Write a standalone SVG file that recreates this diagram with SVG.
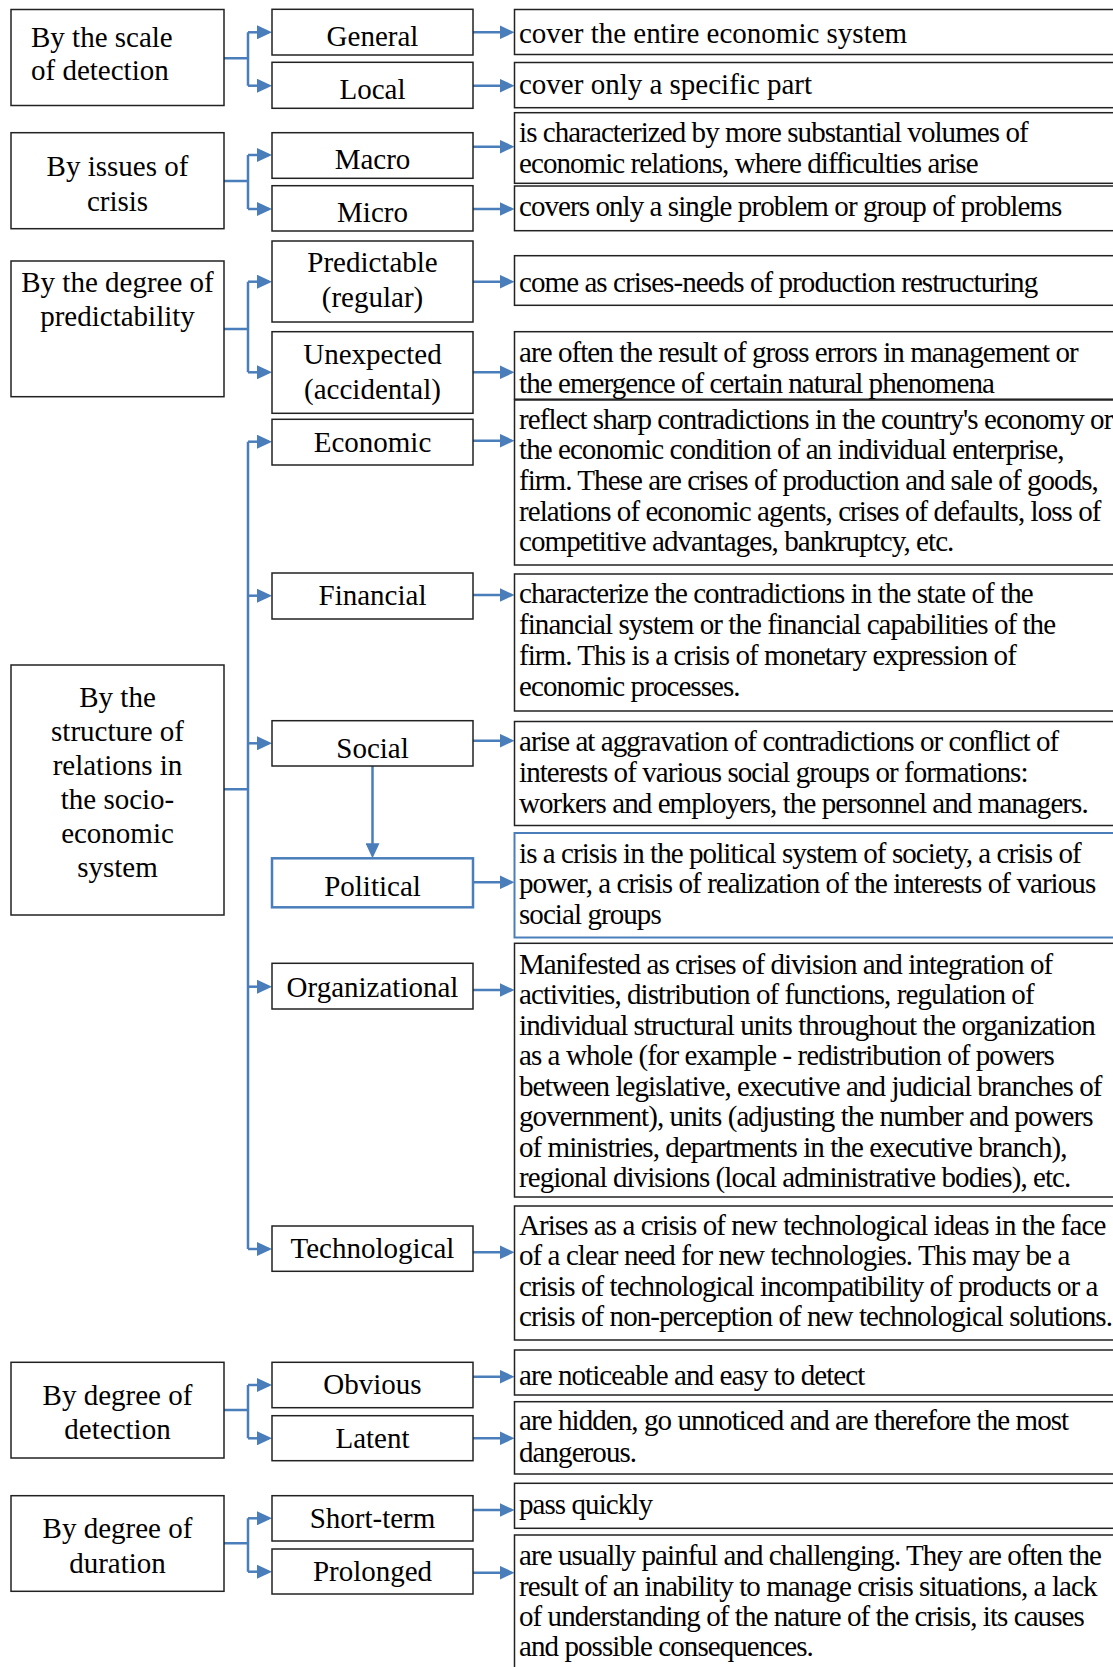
<svg xmlns="http://www.w3.org/2000/svg" width="1113" height="1667" viewBox="0 0 1113 1667">
<defs>
<style>
.box{fill:#fff;stroke:#222;stroke-width:1.5}
.bbox{fill:#fff;stroke:#4a7ebb;stroke-width:2.5}
.bbox2{fill:#fff;stroke:#4a7ebb;stroke-width:2}
.t{font-family:"Liberation Serif","Times New Roman",serif;font-size:29px;fill:#000}
.c{text-anchor:middle}
.cd{letter-spacing:-0.93px}
.con{fill:none;stroke:#4a7ebb;stroke-width:2.5}
.arr{fill:none;stroke:#4a7ebb;stroke-width:2.5;marker-end:url(#ah)}
</style>
<marker id="ah" viewBox="0 0 15 14" refX="12" refY="7" markerWidth="15" markerHeight="14" markerUnits="userSpaceOnUse" orient="auto"><path d="M0 0 L15 7 L0 14 Z" fill="#4a7ebb"/></marker>
</defs>
<rect width="1113" height="1667" fill="#fff"/>

<g id="connectors">
<path class="con" d="M224 58.3 H248 M248 32.3 V85.7"/>
<path class="arr" d="M248 32.3 H269"/>
<path class="arr" d="M248 85.7 H269"/>
<path class="con" d="M224 181 H248 M248 155 V209"/>
<path class="arr" d="M248 155 H269"/>
<path class="arr" d="M248 209 H269"/>
<path class="con" d="M224 329 H248 M248 281.7 V372.3"/>
<path class="arr" d="M248 281.7 H269"/>
<path class="arr" d="M248 372.3 H269"/>
<path class="con" d="M224 789.3 H248 M248 441.7 V1249"/>
<path class="arr" d="M248 441.7 H269"/>
<path class="arr" d="M248 595.7 H269"/>
<path class="arr" d="M248 743.3 H269"/>
<path class="arr" d="M248 986.7 H269"/>
<path class="arr" d="M248 1249 H269"/>
<path class="arr" d="M372.5 766 V855.3"/>
<path class="con" d="M224 1410 H248 M248 1385 V1438.3"/>
<path class="arr" d="M248 1385 H269"/>
<path class="arr" d="M248 1438.3 H269"/>
<path class="con" d="M224 1543.3 H248 M248 1518.3 V1571.7"/>
<path class="arr" d="M248 1518.3 H269"/>
<path class="arr" d="M248 1571.7 H269"/>
<path class="arr" d="M473 32.3 H511.5"/>
<path class="arr" d="M473 85.7 H511.5"/>
<path class="arr" d="M473 146.7 H511.5"/>
<path class="arr" d="M473 209 H511.5"/>
<path class="arr" d="M473 281.7 H511.5"/>
<path class="arr" d="M473 372.3 H511.5"/>
<path class="arr" d="M473 440.7 H511.5"/>
<path class="arr" d="M473 595 H511.5"/>
<path class="arr" d="M473 740.7 H511.5"/>
<path class="arr" d="M473 882.3 H511.5"/>
<path class="arr" d="M473 990 H511.5"/>
<path class="arr" d="M473 1252.3 H511.5"/>
<path class="arr" d="M473 1376.7 H511.5"/>
<path class="arr" d="M473 1438.3 H511.5"/>
<path class="arr" d="M473 1510 H511.5"/>
<path class="arr" d="M473 1572.7 H511.5"/>
</g>

<g id="cat-scale"><rect class="box" x="11" y="9.5" width="213" height="96"/>
<text class="t" x="31" y="46.7">By the scale</text><text class="t" x="31" y="80">of detection</text></g>
<g id="cat-issues"><rect class="box" x="11" y="132.7" width="213" height="96"/>
<text class="t c" x="117.5" y="175.5">By issues of</text><text class="t c" x="117.5" y="210.8">crisis</text></g>
<g id="cat-predict"><rect class="box" x="11" y="261" width="213" height="135.7"/>
<text class="t c" x="117.5" y="291.5">By the degree of</text><text class="t c" x="117.5" y="325.8">predictability</text></g>
<g id="cat-structure"><rect class="box" x="11" y="665" width="213" height="250"/>
<text class="t c" x="117.5" y="707">By the</text><text class="t c" x="117.5" y="741">structure of</text><text class="t c" x="117.5" y="775">relations in</text><text class="t c" x="117.5" y="808.5">the socio-</text><text class="t c" x="117.5" y="842.7">economic</text><text class="t c" x="117.5" y="877">system</text></g>
<g id="cat-detection"><rect class="box" x="11" y="1362.3" width="213" height="95.7"/>
<text class="t c" x="117.5" y="1405">By degree of</text><text class="t c" x="117.5" y="1439.3">detection</text></g>
<g id="cat-duration"><rect class="box" x="11" y="1495.7" width="213" height="95.6"/>
<text class="t c" x="117.5" y="1537.7">By degree of</text><text class="t c" x="117.5" y="1572.7">duration</text></g>

<g id="general"><rect class="box" x="272" y="9.3" width="201" height="45.7"/><text class="t c" x="372.5" y="46">General</text></g>
<g id="local"><rect class="box" x="272" y="62.3" width="201" height="46"/><text class="t c" x="372.5" y="99.3">Local</text></g>
<g id="macro"><rect class="box" x="272" y="132.7" width="201" height="45.6"/><text class="t c" x="372.5" y="169.3">Macro</text></g>
<g id="micro"><rect class="box" x="272" y="185.7" width="201" height="45.3"/><text class="t c" x="372.5" y="222.2">Micro</text></g>
<g id="predictable"><rect class="box" x="272" y="241" width="201" height="81"/><text class="t c" x="372.5" y="272.2">Predictable</text><text class="t c" x="372.5" y="307">(regular)</text></g>
<g id="unexpected"><rect class="box" x="272" y="331.7" width="201" height="81.6"/><text class="t c" x="372.5" y="363.5">Unexpected</text><text class="t c" x="372.5" y="398.5">(accidental)</text></g>
<g id="economic"><rect class="box" x="272" y="419.3" width="201" height="45.7"/><text class="t c" x="372.5" y="451.7">Economic</text></g>
<g id="financial"><rect class="box" x="272" y="573" width="201" height="46"/><text class="t c" x="372.5" y="605">Financial</text></g>
<g id="social"><rect class="box" x="272" y="720.7" width="201" height="45.3"/><text class="t c" x="372.5" y="757.5">Social</text></g>
<g id="political"><rect class="bbox" x="272" y="858.3" width="201" height="49"/><text class="t c" x="372.5" y="896">Political</text></g>
<g id="organizational"><rect class="box" x="272" y="963.3" width="201" height="45.7"/><text class="t c" x="372.5" y="996.5">Organizational</text></g>
<g id="technological"><rect class="box" x="272" y="1226" width="201" height="45.3"/><text class="t c" x="372.5" y="1258">Technological</text></g>
<g id="obvious"><rect class="box" x="272" y="1362.3" width="201" height="45.4"/><text class="t c" x="372.5" y="1394">Obvious</text></g>
<g id="latent"><rect class="box" x="272" y="1415.7" width="201" height="45"/><text class="t c" x="372.5" y="1447.5">Latent</text></g>
<g id="short-term"><rect class="box" x="272" y="1495.7" width="201" height="45.3"/><text class="t c" x="372.5" y="1527.5">Short-term</text></g>
<g id="prolonged"><rect class="box" x="272" y="1549" width="201" height="45"/><text class="t c" x="372.5" y="1580.8">Prolonged</text></g>

<g id="d-general"><rect class="box" x="514.5" y="9.5" width="620" height="45"/><text class="t" x="519" y="42.5">cover the entire economic system</text></g>
<g id="d-local"><rect class="box" x="514.5" y="62.5" width="620" height="45.2"/><text class="t" x="519" y="94">cover only a specific part</text></g>
<g id="d-macro"><rect class="box" x="514.5" y="112.7" width="620" height="70.6"/><text class="t cd" x="519" y="142">is characterized by more substantial volumes of</text><text class="t cd" x="519" y="173">economic relations, where difficulties arise</text></g>
<g id="d-micro"><rect class="box" x="514.5" y="186" width="620" height="44.7"/><text class="t cd" x="519" y="216">covers only a single problem or group of problems</text></g>
<g id="d-predictable"><rect class="box" x="514.5" y="255.7" width="620" height="49.6"/><text class="t cd" x="519" y="292">come as crises-needs of production restructuring</text></g>
<g id="d-unexpected"><rect class="box" x="514.5" y="331.7" width="620" height="67.5"/><text class="t cd" x="519" y="362">are often the result of gross errors in management or</text><text class="t cd" x="519" y="392.5">the emergence of certain natural phenomena</text></g>
<g id="d-economic"><rect class="box" x="514.5" y="400" width="620" height="165"/>
<text class="t cd" x="519" y="428.5">reflect sharp contradictions in the country's economy or</text>
<text class="t cd" x="519" y="459.2">the economic condition of an individual enterprise,</text>
<text class="t cd" x="519" y="489.9">firm. These are crises of production and sale of goods,</text>
<text class="t cd" x="519" y="520.6">relations of economic agents, crises of defaults, loss of</text>
<text class="t cd" x="519" y="551.3">competitive advantages, bankruptcy, etc.</text></g>
<g id="d-financial"><rect class="box" x="514.5" y="574" width="620" height="137"/>
<text class="t cd" x="519" y="603">characterize the contradictions in the state of the</text>
<text class="t cd" x="519" y="634">financial system or the financial capabilities of the</text>
<text class="t cd" x="519" y="665">firm. This is a crisis of monetary expression of</text>
<text class="t cd" x="519" y="696">economic processes.</text></g>
<g id="d-social"><rect class="box" x="514.5" y="721.5" width="620" height="104"/>
<text class="t cd" x="519" y="751.3">arise at aggravation of contradictions or conflict of</text>
<text class="t cd" x="519" y="782.3">interests of various social groups or formations:</text>
<text class="t cd" x="519" y="813.3">workers and employers, the personnel and managers.</text></g>
<g id="d-political"><rect class="bbox2" x="514.5" y="833" width="620" height="104.5"/>
<text class="t cd" x="519" y="862.8">is a crisis in the political system of society, a crisis of</text>
<text class="t cd" x="519" y="893.3">power, a crisis of realization of the interests of various</text>
<text class="t cd" x="519" y="924">social groups</text></g>
<g id="d-organizational"><rect class="box" x="514.5" y="943.3" width="620" height="253.7"/>
<text class="t cd" x="519" y="973.5">Manifested as crises of division and integration of</text>
<text class="t cd" x="519" y="1004">activities, distribution of functions, regulation of</text>
<text class="t cd" x="519" y="1034.5">individual structural units throughout the organization</text>
<text class="t cd" x="519" y="1065">as a whole (for example - redistribution of powers</text>
<text class="t cd" x="519" y="1095.5">between legislative, executive and judicial branches of</text>
<text class="t cd" x="519" y="1126">government), units (adjusting the number and powers</text>
<text class="t cd" x="519" y="1156.5">of ministries, departments in the executive branch),</text>
<text class="t cd" x="519" y="1187">regional divisions (local administrative bodies), etc.</text></g>
<g id="d-technological"><rect class="box" x="514.5" y="1206" width="620" height="134"/>
<text class="t cd" x="519" y="1234.5">Arises as a crisis of new technological ideas in the face</text>
<text class="t cd" x="519" y="1265">of a clear need for new technologies. This may be a</text>
<text class="t cd" x="519" y="1295.5">crisis of technological incompatibility of products or a</text>
<text class="t cd" x="519" y="1326">crisis of non-perception of new technological solutions.</text></g>
<g id="d-obvious"><rect class="box" x="514.5" y="1350" width="620" height="45"/><text class="t cd" x="519" y="1385.3">are noticeable and easy to detect</text></g>
<g id="d-latent"><rect class="box" x="514.5" y="1401.7" width="620" height="72.3"/><text class="t cd" x="519" y="1430.3">are hidden, go unnoticed and are therefore the most</text><text class="t cd" x="519" y="1462">dangerous.</text></g>
<g id="d-short-term"><rect class="box" x="514.5" y="1483.3" width="620" height="45"/><text class="t cd" x="519" y="1513.7">pass quickly</text></g>
<g id="d-prolonged"><rect class="box" x="514.5" y="1535" width="620" height="150"/>
<text class="t cd" x="519" y="1565.3">are usually painful and challenging. They are often the</text>
<text class="t cd" x="519" y="1595.5">result of an inability to manage crisis situations, a lack</text>
<text class="t cd" x="519" y="1625.7">of understanding of the nature of the crisis, its causes</text>
<text class="t cd" x="519" y="1655.9">and possible consequences.</text></g>
</svg>
